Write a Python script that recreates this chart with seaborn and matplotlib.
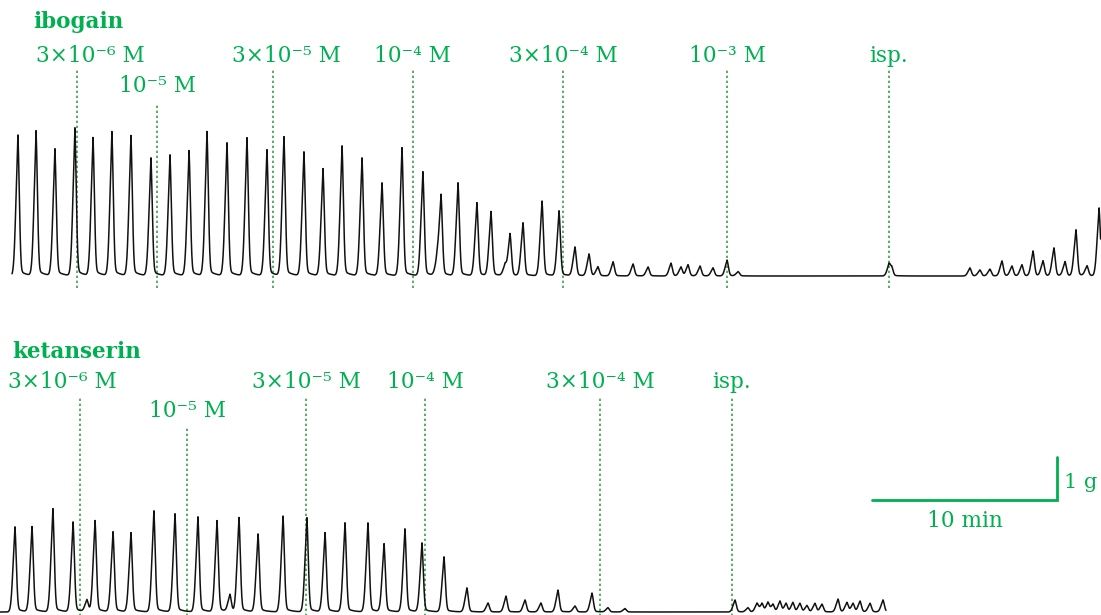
import numpy as np
import pandas as pd
import matplotlib
matplotlib.use("Agg")
import matplotlib.pyplot as plt
import seaborn as sns

sns.set_theme(style="white")
plt.rcParams["font.family"] = ["DejaVu Serif"]

# ---------------------------------------------------------------- data
# Isometric contractions of an isolated tissue strip; time in minutes, force in grams.
ibogain_peak_min = [0.97, 1.95, 2.97, 4.05, 5.03, 6.05, 7.08, 8.16, 9.19, 10.22,
                    11.19, 12.27, 13.35, 14.43, 15.35, 16.43, 17.46, 18.49, 19.57, 20.65,
                    21.73, 22.86, 23.62, 23.84, 24.76, 25.78, 26.54, 27.30, 27.57, 28.27,
                    29.30, 30.22, 31.08, 31.84, 32.32, 33.14, 34.22, 35.03, 36.27, 36.81,
                    37.19, 37.84, 38.54, 39.30, 39.90, 48.05, 48.20, 52.43, 52.97, 53.51,
                    54.16, 54.70, 55.24, 55.84, 56.38, 56.97, 57.57, 58.16, 58.76, 59.41]
ibogain_peak_g = [3.28, 3.37, 2.95, 3.44, 3.21, 3.35, 3.26, 2.74, 2.81, 2.91,
                  3.35, 3.09, 3.21, 2.93, 3.23, 2.88, 2.49, 3.02, 2.74, 2.16,
                  2.98, 2.42, 0.35, 1.88, 2.16, 1.70, 1.49, 0.25, 0.98, 1.23,
                  1.74, 1.51, 0.67, 0.51, 0.21, 0.33, 0.28, 0.21, 0.30, 0.21,
                  0.26, 0.23, 0.19, 0.37, 0.10, 0.23, 0.20, 0.19, 0.14, 0.16,
                  0.35, 0.23, 0.26, 0.58, 0.35, 0.65, 0.33, 1.07, 0.23, 1.58]

ketanserin_peak_min = [0.81, 1.73, 2.86, 3.95, 4.70, 5.14, 6.11, 7.08, 8.32, 9.46,
                       10.70, 11.73, 12.43, 12.92, 13.95, 15.30, 16.59, 17.57, 18.65, 19.89,
                       20.76, 21.89, 22.81, 24.00, 25.24, 26.38, 27.35, 28.38, 29.24, 30.16,
                       31.08, 32.00, 32.86, 33.78,
                       39.73, 40.43, 40.92, 41.19, 41.51, 41.78, 42.16, 42.49, 42.86, 43.24,
                       43.62, 44.05, 44.43, 45.30, 45.78, 46.11, 46.49, 47.03, 47.73]
ketanserin_peak_g = [1.98, 1.98, 2.40, 2.09, 0.28, 2.12, 1.86, 1.84, 2.35, 2.28,
                     2.21, 2.12, 0.40, 2.19, 1.81, 2.23, 2.19, 1.84, 2.07, 2.07,
                     1.58, 1.93, 1.60, 1.28, 0.56, 0.21, 0.37, 0.28, 0.21, 0.51,
                     0.14, 0.44, 0.10, 0.08,
                     0.28, 0.10, 0.20, 0.20, 0.22, 0.18, 0.25, 0.20, 0.22, 0.20,
                     0.15, 0.20, 0.18, 0.30, 0.22, 0.20, 0.25, 0.20, 0.28]

# Cumulative additions: time of each addition and its label
ibogain_dose_min = [4.16, 8.49, 14.76, 22.32, 30.43, 39.30, 48.05]
ibogain_dose_lbl = ["3×10⁻⁶ M", "10⁻⁵ M", "3×10⁻⁵ M", "10⁻⁴ M", "3×10⁻⁴ M", "10⁻³ M", "isp."]
ketanserin_dose_min = [4.32, 10.11, 16.54, 22.97, 32.43, 39.57]
ketanserin_dose_lbl = ["3×10⁻⁶ M", "10⁻⁵ M", "3×10⁻⁵ M", "10⁻⁴ M", "3×10⁻⁴ M", "isp."]

ibogain_span = (0.65, 59.5)
ketanserin_span = (0.0, 47.9)

# ---------------------------------------------------------------- layout
PX_MIN = 18.5      # pixels per minute
PX_G = 43.0        # pixels per gram
W, H = 1101, 615
GREEN = "#00b050"
DOT_GREEN = "#3aa048"
FS = 15.6


def contraction(dt):
    """Shape of one twitch, unit height at dt = 0: slower rise, quicker relaxation."""
    w = np.where(dt < 0, 0.16, 0.11)
    body = 0.85 * np.exp(-(dt / w) ** 2)
    tip = 0.15 * np.exp(-np.abs(dt) / 0.03)
    tail = np.where(dt > 0, 0.05 * np.exp(-dt / 0.35) * (1 - np.exp(-dt / 0.05)), 0.0)
    return body + tip + tail


def build_trace(times, heights, span):
    t = np.arange(span[0], span[1], 0.01)
    y = np.zeros_like(t)
    for tp, h in zip(times, heights):
        y += h * contraction(t - tp)
    return pd.DataFrame({"min": t, "g": y})


fig = plt.figure(figsize=(W / 100, H / 100), dpi=100)

# top panel covers rows 0..300 px with baseline at 276 px
ax_top = fig.add_axes([0, 1 - 300 / H, 1, 300 / H])
ax_top.set_xlim(0, W / PX_MIN)
ax_top.set_ylim(-(300 - 276) / PX_G, 276 / PX_G)
# bottom panel covers rows 320..615 px with baseline at 612 px
ax_bot = fig.add_axes([0, 0, 1, (H - 320) / H])
ax_bot.set_xlim(0, W / PX_MIN)
ax_bot.set_ylim(-(H - 612) / PX_G, (612 - 320) / PX_G)

panels = [
    (ax_top, "ibogain", ibogain_peak_min, ibogain_peak_g, ibogain_span,
     ibogain_dose_min, ibogain_dose_lbl,
     (1.78, 5.91), [0.7, 0, 0.7, 0, 0, 0, 0], -0.28,
     [(5.12, 4.79), (4.42, 4.02)]),
    (ax_bot, "ketanserin", ketanserin_peak_min, ketanserin_peak_g, ketanserin_span,
     ketanserin_dose_min, ketanserin_dose_lbl,
     (0.65, 6.05), [-0.97, 0, 0, 0, 0, 0], -0.2,
     [(5.35, 4.98), (4.67, 4.28)]),
]

for ax, name, pm, pg, span, dmin, dlbl, title_xy, lbl_shift, line_bottom, rows in panels:
    df = build_trace(pm, pg, span)
    sns.lineplot(data=df, x="min", y="g", ax=ax, color="#111111", linewidth=1.1,
                 estimator=None, sort=False, errorbar=None)
    ax.set_axis_off()
    ax.text(*title_xy, name, color=GREEN, fontsize=15.5, fontweight="bold",
            ha="left", va="center")
    for i, (tm, lbl) in enumerate(zip(dmin, dlbl)):
        row = 1 if lbl.startswith("10⁻⁵") else 0
        y_lbl, y_top = rows[row]
        ax.plot([tm, tm], [line_bottom, y_top], color=DOT_GREEN, lw=1.2,
                linestyle=(0, (1.4, 1.6)), clip_on=False, zorder=1)
        ax.text(tm + lbl_shift[i], y_lbl, lbl, color=GREEN, fontsize=FS,
                ha="center", va="center")

# scale bar: 10 min horizontal, 1 g vertical
x0, y0 = 47.14, 2.60
ax_bot.plot([x0, x0 + 10, x0 + 10], [y0, y0, y0 + 1], color=GREEN, lw=2.0,
            solid_joinstyle="miter", clip_on=False)
ax_bot.text(x0 + 5, y0 - 0.48, "10 min", color=GREEN, fontsize=FS,
            ha="center", va="center")
ax_bot.text(x0 + 10.35, y0 + 0.42, "1 g", color=GREEN, fontsize=FS - 0.6,
            ha="left", va="center")

fig.savefig("out.png", dpi=100)
